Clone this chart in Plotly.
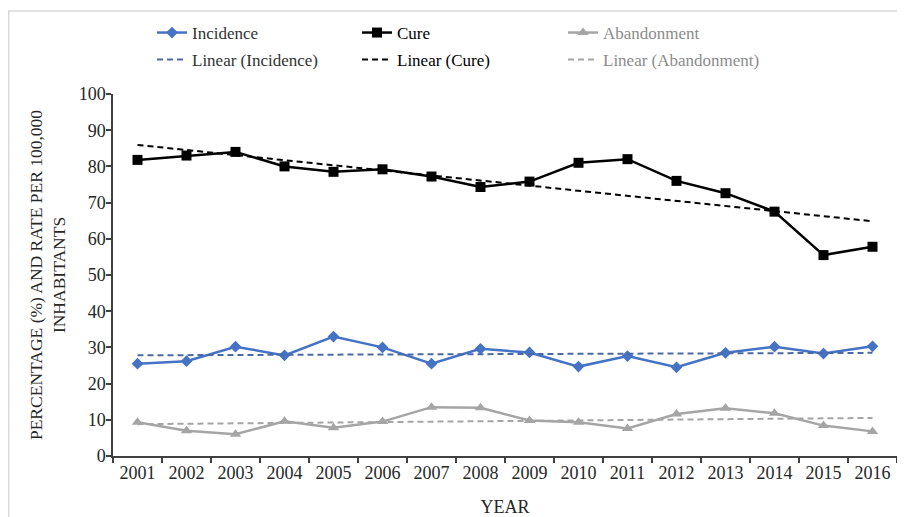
import numpy as np
import plotly.graph_objects as go

years = [str(y) for y in range(2001, 2017)]
incidence = [25.5, 26.2, 30.2, 27.8, 33.0, 30.0, 25.5, 29.6, 28.6, 24.7, 27.6, 24.5, 28.5, 30.2, 28.3, 30.3]
cure = [81.8, 83.0, 84.0, 80.0, 78.5, 79.2, 77.2, 74.3, 75.8, 81.0, 82.0, 76.0, 72.6, 67.5, 55.5, 57.8]
abandonment = [9.3, 7.0, 6.0, 9.6, 7.8, 9.5, 13.5, 13.3, 9.8, 9.3, 7.6, 11.6, 13.2, 11.8, 8.4, 6.8]
y_ticks = list(range(0, 101, 10))

BLUE = "#4472C4"
BLACK = "#000000"
GRAY = "#A5A5A5"
SERIF = "Liberation Serif"


def trend(vals):
    idx = np.arange(1, len(vals) + 1)
    slope, intercept = np.polyfit(idx, vals, 1)
    return list(slope * idx + intercept)


def lbl(text, color):
    return f"<span style='color:{color}'>{text}</span>"


fig = go.Figure()
fig.add_trace(go.Scatter(x=years, y=incidence, name=lbl("Incidence", "#333333"), mode="lines+markers",
                         legend="legend",
                         line=dict(color=BLUE, width=2.5), marker=dict(symbol="diamond", size=9, color=BLUE)))
fig.add_trace(go.Scatter(x=years, y=cure, name=lbl("Cure", "#000000"), mode="lines+markers",
                         legend="legend2",
                         line=dict(color=BLACK, width=2.5), marker=dict(symbol="square", size=10, color=BLACK)))
fig.add_trace(go.Scatter(x=years, y=abandonment, name=lbl("Abandonment", "#8C8C8C"), mode="lines+markers",
                         legend="legend3",
                         line=dict(color=GRAY, width=2.5), marker=dict(symbol="triangle-up", size=10, color=GRAY)))
fig.add_trace(go.Scatter(x=years, y=trend(incidence), name=lbl("Linear (Incidence)", "#333333"), mode="lines",
                         legend="legend4",
                         line=dict(color="#4A6AA5", width=2, dash="6px,4px")))
fig.add_trace(go.Scatter(x=years, y=trend(cure), name=lbl("Linear (Cure)", "#000000"), mode="lines",
                         legend="legend5",
                         line=dict(color=BLACK, width=2, dash="6px,4px")))
fig.add_trace(go.Scatter(x=years, y=trend(abandonment), name=lbl("Linear (Abandonment)", "#8C8C8C"), mode="lines",
                         legend="legend6",
                         line=dict(color=GRAY, width=2, dash="6px,4px")))

W, H = 897, 509
L, R, T, B = 105, 8, 86, 61
pw = W - L - R
ph = H - T - B


def px_x(p):
    return (p - L) / pw


def px_y(p):
    return (H - B - p) / ph


def leg(px_left, px_mid):
    return dict(orientation="h", xanchor="left", yanchor="middle",
                x=px_x(px_left), y=px_y(px_mid),
                font=dict(size=17, family=SERIF, color="#333333"),
                itemwidth=30, bgcolor="rgba(0,0,0,0)")


cols = [144, 349, 555]
rows = [25, 52]

fig.update_layout(
    width=W, height=H,
    margin=dict(l=L, r=R, t=T, b=B, autoexpand=False),
    paper_bgcolor="white", plot_bgcolor="white",
    font=dict(family=SERIF, size=18, color="#262626"),
    showlegend=True,
    legend=leg(cols[0], rows[0]),
    legend2=leg(cols[1], rows[0]),
    legend3=leg(cols[2], rows[0]),
    legend4=leg(cols[0], rows[1]),
    legend5=leg(cols[1], rows[1]),
    legend6=leg(cols[2], rows[1]),
    xaxis=dict(type="category", range=[-0.5, len(years) - 0.5], tickson="boundaries", ticks="outside",
               ticklen=5, tickwidth=1.5,
               tickcolor="#404040", showline=True, linecolor="#404040", linewidth=1.5,
               showgrid=False, zeroline=False, automargin=False,
               tickfont=dict(size=18, family=SERIF, color="#262626"),
               title=dict(text="YEAR", font=dict(size=18, family=SERIF, color="#262626"), standoff=19)),
    yaxis=dict(range=[0, 100], tickvals=y_ticks, ticks="outside", ticklen=5, tickwidth=1.5,
               tickcolor="#404040", showline=True, linecolor="#404040", linewidth=1.5,
               showgrid=False, zeroline=False, automargin=False, ticklabelstandoff=-3,
               tickfont=dict(size=18, family=SERIF, color="#262626"),
               title=dict(text="PERCENTAGE (%) AND RATE PER 100,000<br>INHABITANTS",
                          font=dict(size=17.5, family=SERIF, color="#262626"), standoff=9)),
    shapes=[
        dict(type="line", xref="paper", yref="paper", x0=px_x(0), x1=px_x(900), y0=px_y(3), y1=px_y(3),
             line=dict(color="#D9D9D9", width=1.5)),
        dict(type="line", xref="paper", yref="paper", x0=px_x(0.75), x1=px_x(0.75), y0=px_y(3), y1=px_y(520),
             line=dict(color="#D9D9D9", width=1.5)),
    ],
)

fig.write_html("out.html")
